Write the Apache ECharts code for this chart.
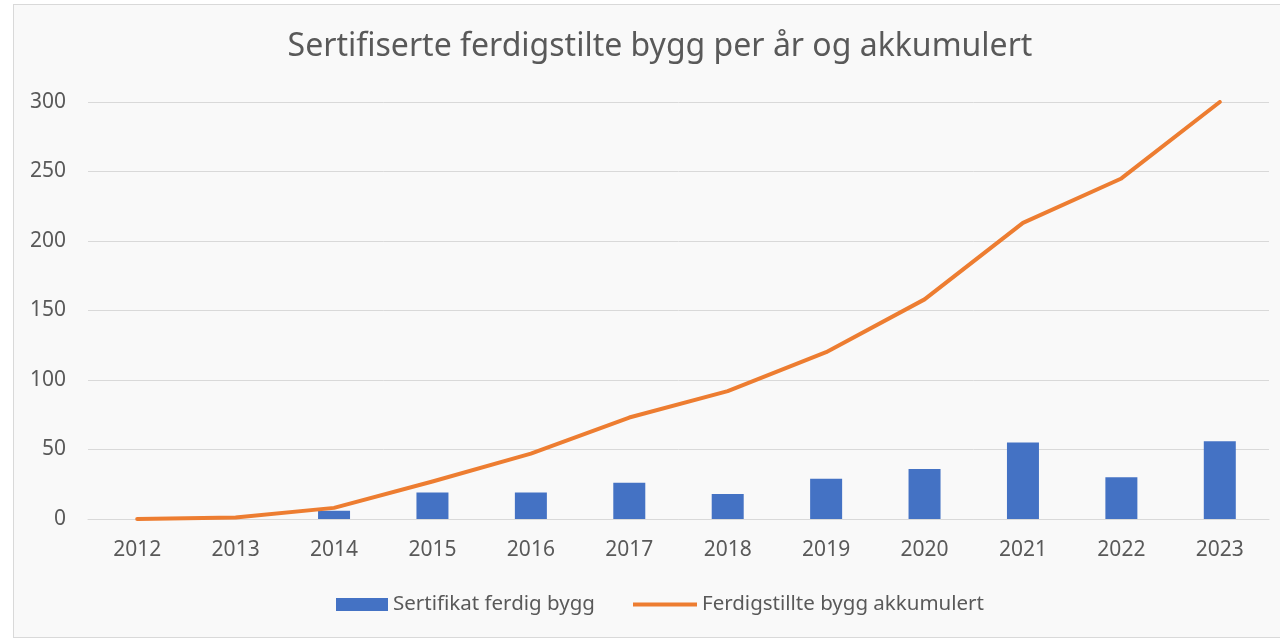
<!DOCTYPE html>
<html>
<head>
<meta charset="utf-8">
<script src="https://cdn.jsdelivr.net/npm/echarts@6/dist/echarts.min.js"></script>
<style>
  html, body { margin: 0; padding: 0; background: #ffffff; }
  #frame { position: absolute; left: 13px; top: 4px; width: 1300px; height: 632px; border: 1px solid #d9d9d9; background: #f9f9f9; }
  #chart { position: absolute; left: 0; top: 0; width: 1280px; height: 640px; }
</style>
</head>
<body>
<div id="frame"></div>
<div id="chart"></div>
<script>
const titleText = 'Sertifiserte ferdigstilte bygg per år og akkumulert';
const years = ['2012','2013','2014','2015','2016','2017','2018','2019','2020','2021','2022','2023'];
const perYear = [0, 0, 6, 19, 19, 26, 18, 29, 36, 55, 30, 56];
const cumulative = [0, 1, 8, 27, 47, 73, 92, 120, 158, 213, 245, 300];
const barName = 'Sertifikat ferdig bygg';
const lineName = 'Ferdigstillte bygg akkumulert';

const font = 'Noto Sans';
const chart = echarts.init(document.getElementById('chart'));
chart.setOption({
  backgroundColor: 'transparent',
  animation: false,
  title: {
    text: titleText,
    left: 655, top: 26, textAlign: 'center',
    textStyle: { fontFamily: font, fontSize: 32, fontWeight: 'normal', color: '#595959' }
  },
  legend: [
    {
      data: [{ name: barName, icon: 'rect' }],
      left: 331, top: 589, itemWidth: 52, itemHeight: 13, itemGap: 4,
      textStyle: { fontFamily: font, fontSize: 20.5, color: '#595959' }
    },
    {
      data: [{ name: lineName, icon: 'rect' }],
      left: 628, top: 589, itemWidth: 64, itemHeight: 4,
      textStyle: { fontFamily: font, fontSize: 20.5, color: '#595959' }
    }
  ],
  grid: { left: 88, right: 11, top: 102, bottom: 121, containLabel: false },
  xAxis: {
    type: 'category', data: years, boundaryGap: true,
    axisLine: { show: true, lineStyle: { color: '#d9d9d9', width: 1 } },
    axisTick: { show: false },
    axisLabel: { margin: 21, fontFamily: font, fontSize: 21, color: '#595959' }
  },
  yAxis: {
    type: 'value', min: 0, max: 300, interval: 50,
    axisLine: { show: false }, axisTick: { show: false },
    splitLine: { lineStyle: { color: '#d9d9d9', width: 1 } },
    axisLabel: { margin: 22, fontFamily: font, fontSize: 21, color: '#595959' }
  },
  series: [
    {
      name: barName, type: 'bar', data: perYear, barWidth: 32,
      itemStyle: { color: '#4472C4' }
    },
    {
      name: lineName, type: 'line', data: cumulative,
      showSymbol: false, symbol: 'none',
      lineStyle: { color: '#ED7D31', width: 4, cap: 'round', join: 'round' },
      itemStyle: { color: '#ED7D31' }
    }
  ]
});
</script>
</body>
</html>
